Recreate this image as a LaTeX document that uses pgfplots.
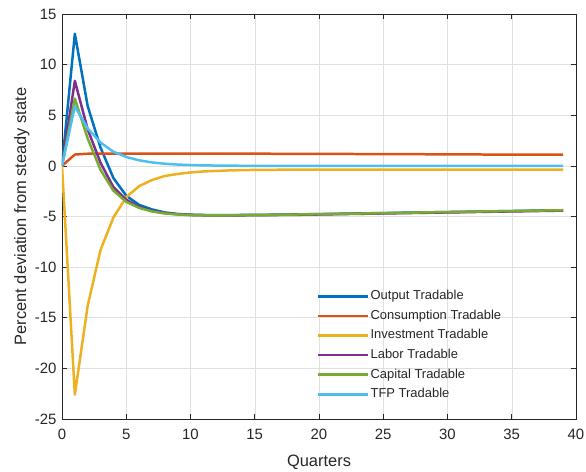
\documentclass[border=0pt]{standalone}
\usepackage{fontspec}
\setmainfont{Liberation Sans}
\usepackage{pgfplots}
\usepackage{pgfplotstable}
\pgfplotsset{compat=1.18}

\definecolor{mblue}{rgb}{0,0.447,0.741}
\definecolor{morange}{rgb}{0.85,0.325,0.098}
\definecolor{myellow}{rgb}{0.929,0.694,0.125}
\definecolor{mpurple}{rgb}{0.494,0.184,0.556}
\definecolor{mgreen}{rgb}{0.466,0.674,0.188}
\definecolor{mcyan}{rgb}{0.301,0.745,0.933}
\definecolor{axgray}{rgb}{0.15,0.15,0.15}

\tikzset{irf/.style={line width=2.5pt, line join=round}}

% impulse responses, quarters 0..39
\pgfplotstableread{
t  out    cons  inv     lab    cap    tfp
0  0      0     0       0      0      0
1  13.05  1.12  -22.6   8.40   6.65   5.90
2  5.90   1.20  -13.8   3.60   2.70   3.70
3  1.80   1.20  -8.3    0.30   -0.40  2.30
4  -1.20  1.21  -5.1    -2.10  -2.45  1.40
5  -2.95  1.21  -3.1    -3.35  -3.55  0.88
6  -3.85  1.21  -2.0    -4.05  -4.15  0.55
7  -4.30  1.21  -1.4    -4.45  -4.50  0.34
8  -4.60  1.21  -1.0    -4.66  -4.70  0.21
9  -4.75  1.21  -0.80   -4.78  -4.80  0.13
10 -4.82  1.21  -0.65   -4.85  -4.86  0.08
11 -4.85  1.21  -0.55   -4.88  -4.88  0.05
12 -4.86  1.21  -0.50   -4.88  -4.88  0.03
13 -4.86  1.20  -0.45   -4.88  -4.88  0.02
14 -4.85  1.20  -0.42   -4.88  -4.87  0.01
15 -4.84  1.20  -0.40   -4.87  -4.86  0
16 -4.83  1.20  -0.39   -4.86  -4.85  0
17 -4.81  1.19  -0.38   -4.85  -4.83  0
18 -4.80  1.19  -0.38   -4.84  -4.81  0
19 -4.78  1.19  -0.38   -4.82  -4.79  0
20 -4.76  1.18  -0.38   -4.80  -4.77  0
21 -4.74  1.18  -0.38   -4.78  -4.75  0
22 -4.72  1.18  -0.38   -4.76  -4.73  0
23 -4.70  1.17  -0.38   -4.74  -4.71  0
24 -4.68  1.17  -0.38   -4.72  -4.69  0
25 -4.66  1.16  -0.38   -4.70  -4.67  0
26 -4.64  1.16  -0.38   -4.68  -4.65  0
27 -4.62  1.15  -0.38   -4.66  -4.63  0
28 -4.60  1.15  -0.38   -4.64  -4.60  0
29 -4.58  1.14  -0.38   -4.62  -4.58  0
30 -4.56  1.14  -0.38   -4.60  -4.56  0
31 -4.54  1.13  -0.38   -4.58  -4.54  0
32 -4.52  1.13  -0.38   -4.56  -4.52  0
33 -4.50  1.12  -0.38   -4.54  -4.50  0
34 -4.48  1.12  -0.38   -4.52  -4.48  0
35 -4.46  1.11  -0.38   -4.50  -4.46  0
36 -4.44  1.11  -0.38   -4.48  -4.44  0
37 -4.42  1.10  -0.38   -4.46  -4.42  0
38 -4.40  1.10  -0.38   -4.44  -4.40  0
39 -4.38  1.10  -0.38   -4.42  -4.38  0
}\irf

\begin{document}
\begin{tikzpicture}
\begin{axis}[
  scale only axis, width=514bp, height=405bp,
  xmin=0, xmax=40, ymin=-25, ymax=15,
  xtick distance=5, ytick distance=5,
  axis line style={axgray, line width=0.6pt},
  tick style={axgray, line width=0.6pt},
  major tick length=5bp, tickpos=both, tick align=inside,
  grid=major, grid style={black!12, line width=0.5pt},
  ticklabel style={font=\fontsize{15}{18}\selectfont, text=axgray},
  /pgf/number format/assume math mode=true,
  xticklabel style={yshift=-7bp},
  yticklabel style={xshift=-2bp},
  xlabel={Quarters}, ylabel={Percent deviation from steady state},
  every axis x label/.style={at={(axis description cs:0.5,-0.106)}, anchor=center,
    font=\fontsize{16.5}{19}\selectfont, text=axgray},
  every axis y label/.style={at={(axis description cs:-0.078,0.5)}, anchor=center,
    rotate=90, font=\fontsize{16.5}{19}\selectfont, text=axgray},
  legend style={draw=none, fill=none, inner sep=0pt,
    at={(0.496,0.321)}, anchor=north west,
    font=\fontsize{13}{15}\selectfont, text=axgray,
    nodes={inner sep=1bp, text height=9.5bp, text depth=2.8bp},
    row sep=5.3bp},
  legend cell align=left,
  legend image code/.code={\draw[#1] (0bp,0bp) -- (50bp,0bp);},
]
\addplot[irf, mblue]    table[x=t, y=out]  {\irf};
\addplot[irf, morange]  table[x=t, y=cons] {\irf};
\addplot[irf, myellow]  table[x=t, y=inv]  {\irf};
\addplot[irf, mpurple]  table[x=t, y=lab]  {\irf};
\addplot[irf, mgreen]   table[x=t, y=cap]  {\irf};
\addplot[irf, mcyan]    table[x=t, y=tfp]  {\irf};
\legend{Output Tradable, Consumption Tradable, Investment Tradable, Labor Tradable, Capital Tradable, TFP Tradable}
\end{axis}
\pgfresetboundingbox
\path[use as bounding box] ([xshift=-62bp,yshift=-53bp]current axis.south west) rectangle ([xshift=10bp,yshift=14bp]current axis.north east);
\end{tikzpicture}
\end{document}
